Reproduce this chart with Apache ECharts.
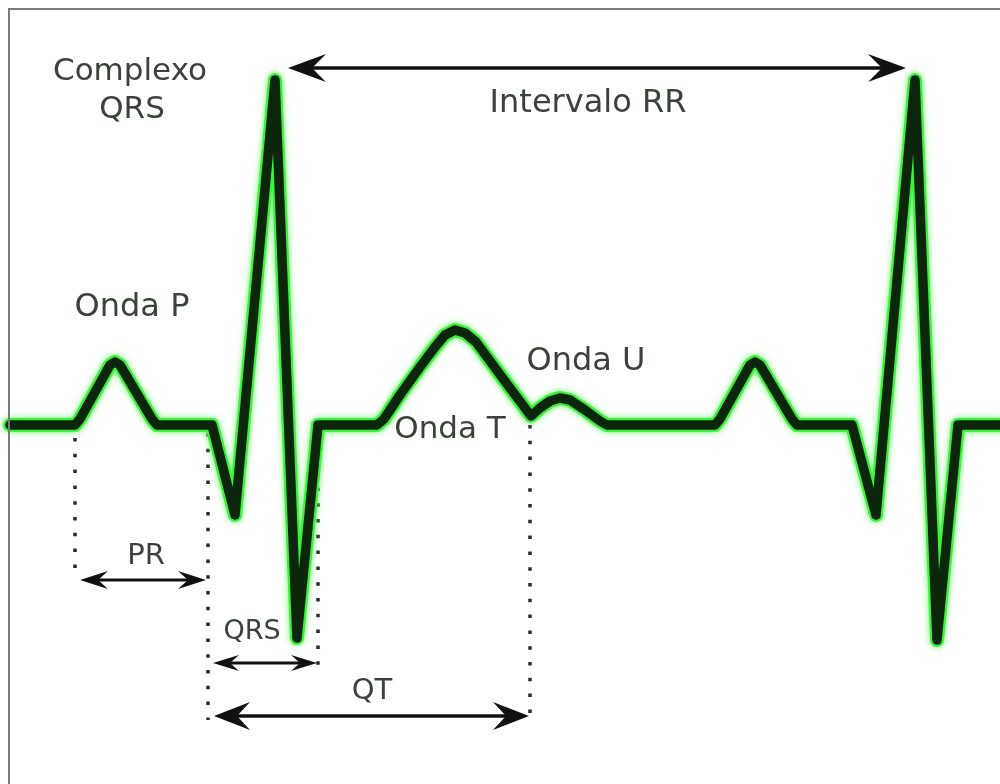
<!DOCTYPE html>
<html><head><meta charset="utf-8">
<script src="https://cdn.jsdelivr.net/npm/echarts/dist/echarts.min.js"></script>
<style>html,body{margin:0;padding:0;background:#fff}#c{width:1000px;height:784px}</style>
</head><body><div id="c"></div>
<script>
// ECG trace: time (arbitrary ms-like units) and amplitude (mV-like units, baseline 0)
const ecgTime = [10, 75, 80, 110, 115, 120, 152, 157, 212, 235, 275, 297, 318,
  377, 384, 400, 420, 435, 445, 455, 465, 476, 490, 510, 531, 540, 550, 560, 570, 585, 600, 607,
  715, 720, 750, 755, 760, 792, 797, 852, 876, 915, 937, 958, 1000];
const ecgVolt = [0, 0, 0.06, 0.60, 0.63, 0.60, 0.06, 0, 0, -0.90, 3.45, -2.13, 0,
  0, 0.06, 0.30, 0.58, 0.78, 0.90, 0.95, 0.92, 0.83, 0.64, 0.37, 0.09, 0.17, 0.24, 0.27, 0.25, 0.15, 0.04, 0,
  0, 0.06, 0.60, 0.63, 0.60, 0.06, 0, 0, -0.90, 3.45, -2.15, 0, 0];

// dotted guide lines
const guideX = [75, 208, 318, 530];
const guideTop = [-0.13, -0.08, -0.15, 0];
const guideBottom = [-1.53, -2.95, -2.43, -2.93];

// interval arrows
const arrowNames = ['RR', 'PR', 'QRS', 'QT'];
const arrowStart = [288, 80, 213, 214];
const arrowEnd = [906, 206, 317, 529];
const arrowLevel = [3.57, -1.55, -2.38, -2.91];

// annotation labels
const labelTexts = ['Complexo', 'QRS', 'Intervalo RR', 'Onda P', 'Onda U', 'Onda T', 'PR', 'QRS', 'QT'];
const labelX = [130, 132, 588, 132, 586, 450, 146, 252, 372];
const labelY = [3.53, 3.15, 3.21, 1.17, 0.63, -0.05, -1.31, -2.07, -2.66];

const labelSize = [31, 31, 32, 32, 32, 31, 29, 27, 29];
const arrowHead = [
  {len: 38, half: 14, notch: 24, w: 3.5},
  {len: 28, half: 9, notch: 18, w: 3},
  {len: 26, half: 8, notch: 17, w: 3},
  {len: 36, half: 14, notch: 23, w: 3.5}
];

const ecgData = ecgTime.map((t, i) => [t, ecgVolt[i]]);

const chart = echarts.init(document.getElementById('c'), null, {renderer: 'canvas'});
chart.setOption({
  animation: false,
  backgroundColor: '#ffffff',
  grid: {left: 0, right: 0, top: 0, bottom: 0},
  xAxis: {type: 'value', min: 0, max: 1000, show: false},
  yAxis: {type: 'value', min: -3.59, max: 4.25, show: false},
  graphic: [{
    type: 'polyline', silent: true, z: 100,
    shape: {points: [[9, 790], [9, 9], [1005, 9]]},
    style: {stroke: '#7a7a7a', lineWidth: 2, fill: null}
  }],
  series: [
    {
      type: 'custom', name: 'guides', z: 1,
      data: guideX.map((x, i) => [x, guideTop[i], guideBottom[i]]),
      encode: {x: 0, y: [1, 2]},
      renderItem: function (params, api) {
        const a = api.coord([api.value(0), api.value(1)]);
        const b = api.coord([api.value(0), api.value(2)]);
        return {
          type: 'line',
          shape: {x1: a[0], y1: a[1], x2: b[0], y2: b[1]},
          style: {stroke: '#2a2a2a', lineWidth: 3.5, lineDash: [3.5, 12.3]}
        };
      }
    },
    {
      type: 'line', name: 'glow', data: ecgData, symbol: 'none', z: 2,
      lineStyle: {color: '#3cf03c', width: 14, join: 'round', cap: 'round',
        shadowColor: 'rgba(90,255,90,0.9)', shadowBlur: 6}
    },
    {
      type: 'line', name: 'ecg', data: ecgData, symbol: 'none', z: 3,
      lineStyle: {color: '#0c260c', width: 9.5, join: 'round', cap: 'round'}
    },
    {
      type: 'custom', name: 'arrows', z: 4,
      data: arrowNames.map((n, i) => [arrowStart[i], arrowEnd[i], arrowLevel[i], i]),
      encode: {x: [0, 1], y: 2},
      renderItem: function (params, api) {
        const h = arrowHead[api.value(3)];
        const p1 = api.coord([api.value(0), api.value(2)]);
        const p2 = api.coord([api.value(1), api.value(2)]);
        const y = p1[1];
        return {
          type: 'group',
          children: [
            {type: 'line', shape: {x1: p1[0] + h.notch, y1: y, x2: p2[0] - h.notch, y2: y},
              style: {stroke: '#111', lineWidth: h.w}},
            {type: 'polygon', shape: {points: [[p1[0], y], [p1[0] + h.len, y - h.half], [p1[0] + h.notch, y], [p1[0] + h.len, y + h.half]]},
              style: {fill: '#111'}},
            {type: 'polygon', shape: {points: [[p2[0], y], [p2[0] - h.len, y - h.half], [p2[0] - h.notch, y], [p2[0] - h.len, y + h.half]]},
              style: {fill: '#111'}}
          ]
        };
      }
    },
    {
      type: 'custom', name: 'labels', z: 5,
      data: labelTexts.map((t, i) => [labelX[i], labelY[i], i]),
      encode: {x: 0, y: 1},
      renderItem: function (params, api) {
        const i = api.value(2);
        const p = api.coord([api.value(0), api.value(1)]);
        return {
          type: 'text', x: p[0], y: p[1],
          style: {text: labelTexts[i], fill: '#3a423a', align: 'center', verticalAlign: 'middle',
            font: labelSize[i] + 'px "DejaVu Sans"'}
        };
      }
    }
  ]
});
</script>
</body></html>
